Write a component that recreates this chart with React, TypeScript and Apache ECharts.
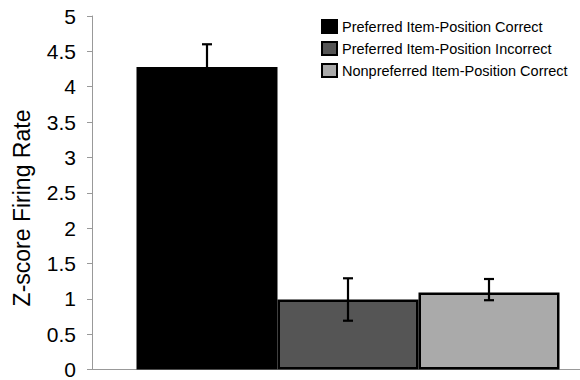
import React, { useEffect, useRef } from "react";
import * as echarts from "echarts";

const seriesNames = [
  "Preferred Item-Position Correct",
  "Preferred Item-Position Incorrect",
  "Nonpreferred Item-Position Correct",
];
const meanValues = [4.28, 0.99, 1.09];
const errorLow = [3.96, 0.69, 0.98];
const errorHigh = [4.6, 1.29, 1.28];
const barColors = ["#000000", "#555555", "#aaaaaa"];
const yTicks = { min: 0, max: 5, interval: 0.5 };
const yAxisTitle = "Z-score Firing Rate";

const BAR_WIDTH = 141;
const FONT = "'Liberation Sans', Arial, Helvetica, sans-serif";

export default function App() {
  const ref = useRef<HTMLDivElement>(null);
  useEffect(() => {
    document.body.style.margin = "0";
    if (!ref.current) return;
    const chart = echarts.init(ref.current, null, { renderer: "svg" });

    const barSeries = seriesNames.map((name, i) => ({
      name,
      type: "bar",
      data: [meanValues[i]],
      barWidth: BAR_WIDTH,
      barGap: "0%",
      itemStyle: {
        color: barColors[i],
        borderColor: "#000",
        borderWidth: 2.5,
      },
      z: 2,
    }));

    const errData = seriesNames.map((_, i) => [0, errorLow[i], errorHigh[i], i]);

    chart.setOption({
      animation: false,
      backgroundColor: "#fff",
      grid: { left: 92, right: 0, top: 16, bottom: 8, containLabel: false },
      legend: {
        data: seriesNames,
        orient: "vertical",
        left: 316,
        top: 14,
        itemWidth: 15,
        itemHeight: 13,
        itemGap: 7,
        icon: "rect",
        textStyle: { fontFamily: FONT, fontSize: 14.5, color: "#000" },
      },
      xAxis: {
        type: "category",
        data: [""],
        axisLine: { show: true, lineStyle: { color: "#999", width: 1 } },
        axisTick: { show: false },
        axisLabel: { show: false },
        splitLine: { show: false },
      },
      yAxis: {
        type: "value",
        min: yTicks.min,
        max: yTicks.max,
        interval: yTicks.interval,
        axisLine: { show: true, lineStyle: { color: "#999", width: 1 } },
        axisTick: { show: true, length: 5, lineStyle: { color: "#999" } },
        axisLabel: {
          margin: 16,
          fontFamily: FONT,
          fontSize: 21,
          color: "#000",
        },
        splitLine: { show: false },
      },
      graphic: [
        {
          type: "text",
          x: 22,
          y: 208,
          rotation: Math.PI / 2,
          style: {
            text: yAxisTitle,
            fontFamily: FONT,
            fontSize: 23,
            fill: "#000",
            textAlign: "center",
            textVerticalAlign: "middle",
          },
        },
      ],
      series: [
        ...barSeries,
        {
          type: "custom",
          name: "errors",
          data: errData,
          z: 5,
          renderItem: (params: any, api: any) => {
            const lo = api.value(1);
            const hi = api.value(2);
            const idx = api.value(3);
            const pLo = api.coord([0, lo]);
            const pHi = api.coord([0, hi]);
            const x = pLo[0] + (idx - 1) * BAR_WIDTH;
            const cap = 5;
            const style = { stroke: "#000", lineWidth: 2.2 };
            return {
              type: "group",
              children: [
                { type: "line", shape: { x1: x, y1: pLo[1], x2: x, y2: pHi[1] }, style },
                { type: "line", shape: { x1: x - cap, y1: pHi[1], x2: x + cap, y2: pHi[1] }, style },
                { type: "line", shape: { x1: x - cap, y1: pLo[1], x2: x + cap, y2: pLo[1] }, style },
              ],
            };
          },
        },
      ],
    });
    return () => chart.dispose();
  }, []);
  return (
    <div style={{ width: 580, height: 380, overflow: "hidden", position: "relative" }}>
      <div ref={ref} style={{ width: 604, height: 380 }} />
    </div>
  );
}
